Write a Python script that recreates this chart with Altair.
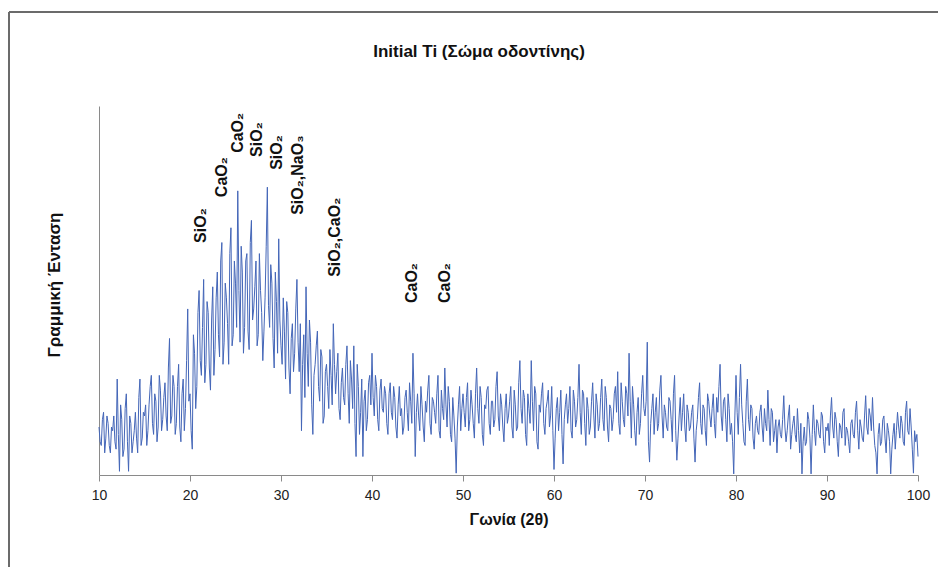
import altair as alt
import pandas as pd

# Intensity (arbitrary units, 0-100), on a 0.25 deg grid of 2-theta
intensity = [
    # 10.00 - 14.75
    13, 8, 17, 10, 14, 6, 12, 9, 26, 1, 15, 7, 22, 1, 14, 9, 17, 6, 26, 10,
    # 15.00 - 19.75
    16, 8, 19, 27, 11, 20, 13, 23, 15, 25, 12, 37, 16, 24, 14, 30, 9, 26, 18, 45,
    # 20.00 - 24.75
    22, 7, 33, 24, 50, 27, 53, 30, 44, 23, 51, 34, 55, 32, 63, 36, 48, 30, 67, 38,
    # 25.00 - 29.75
    52, 77, 36, 55, 40, 60, 34, 69, 45, 58, 38, 50, 31, 48, 78, 40, 52, 29, 47, 64,
    # 30.00 - 34.75
    35, 48, 26, 44, 22, 41, 33, 53, 28, 12, 38, 51, 24, 36, 11, 30, 39, 20, 32, 16,
    # 35.00 - 39.75
    30, 18, 27, 41, 22, 33, 15, 29, 19, 35, 14, 26, 35, 5, 24, 17, 5, 23, 15, 27,
    # 40.00 - 44.75
    33, 16, 24, 12, 26, 17, 22, 11, 25, 15, 21, 10, 24, 18, 13, 23, 12, 20, 33, 5,
    # 45.00 - 49.75
    22, 12, 19, 9, 17, 27, 11, 20, 14, 27, 10, 18, 29, 13, 20, 9, 16, 0.5, 19, 12,
    # 50.00 - 54.75
    22, 13, 25, 15, 19, 10, 29, 14, 21, 8, 18, 24, 11, 20, 15, 28, 12, 19, 9, 22,
    # 55.00 - 59.75
    16, 24, 10, 19, 13, 31, 14, 21, 8, 18, 31, 12, 22, 7, 17, 25, 11, 20, 13, 24,
    # 60.00 - 64.75
    1.5, 18, 12, 23, 3, 19, 14, 24, 10, 20, 15, 30, 11, 22, 8, 18, 13, 25, 10, 19,
    # 65.00 - 69.75
    14, 26, 12, 21, 9, 18, 15, 24, 28, 11, 20, 13, 22, 33, 10, 19, 8, 21, 14, 27,
    # 70.00 - 74.75
    16, 36, 3.5, 18, 11, 21, 14, 27, 10, 17, 12, 20, 9, 27, 4, 16, 12, 22, 9, 17,
    # 75.00 - 79.75
    13, 19, 3.5, 15, 25, 11, 18, 8, 20, 13, 22, 10, 17, 30, 12, 21, 9, 18, 14, 0.3,
    # 80.00 - 84.75
    27, 11, 30, 14, 8, 26, 12, 18, 7, 16, 11, 19, 9, 14, 23, 8, 17, 12, 6, 15,
    # 85.00 - 89.75
    10, 21.5, 9, 16, 7, 14, 11, 18, 6, 0.3, 13, 9, 15, 0.3, 19, 8, 14, 10, 16, 6,
    # 90.00 - 94.75
    12, 8, 21, 10, 15, 5, 13, 17, 8, 12, 6, 15, 10, 20, 7, 13, 9, 21.5, 11, 16,
    # 95.00 - 99.75
    21, 8, 0.3, 14, 9, 16, 6, 12, 0.3, 11, 7, 17, 10, 14, 8, 20, 11, 13, 0.5, 9,
    # 100.00
    5,
]

# Intermediate readings, at 10.125, 10.375, ... 99.875
intensity_mid = [
    9, 15, 6, 16, 8, 13, 16, 7, 11, 19, 5, 18, 9, 16, 6, 12, 10, 21, 8, 17,
    19, 12, 24, 14, 22, 9, 27, 12, 21, 16, 29, 14, 27, 11, 24, 13, 22, 12, 31, 20,
    12, 38, 18, 44, 31, 40, 25, 47, 29, 42, 27, 48, 38, 58, 30, 52, 41, 60, 35, 58,
    40, 50, 62, 33, 58, 39, 63, 42, 51, 35, 60, 44, 39, 62, 46, 57, 37, 55, 33, 42,
    30, 39, 47, 29, 37, 28, 45, 36, 41, 30, 21, 33, 42, 19, 27, 35, 24, 34, 14, 28,
    24, 34, 19, 30, 28, 18, 25, 21, 30, 22, 31, 18, 14, 30, 11, 26, 20, 12, 25, 19,
    21, 27, 15, 23, 18, 24, 14, 22, 17, 24, 13, 19, 16, 11, 21, 17, 25, 14, 22, 17,
    16, 24, 13, 20, 23, 14, 21, 17, 22, 12, 23, 15, 19, 24, 11, 21, 10, 13, 24, 18,
    17, 21, 12, 23, 14, 22, 18, 24, 11, 19, 23, 14, 20, 13, 24, 16, 22, 13, 18, 14,
    20, 13, 23, 12, 25, 18, 23, 11, 22, 14, 20, 24, 9, 19, 22, 14, 18, 23, 16, 12,
    10, 21, 17, 11, 15, 22, 18, 12, 23, 13, 21, 17, 23, 14, 21, 11, 20, 16, 22, 12,
    21, 15, 24, 13, 19, 12, 22, 17, 14, 25, 15, 24, 16, 20, 24, 12, 17, 11, 22, 18,
    20, 9, 14, 22, 17, 12, 23, 16, 19, 13, 21, 15, 22, 12, 10, 21, 17, 13, 19, 12,
    17, 10, 12, 21, 14, 19, 12, 22, 16, 18, 14, 21, 24, 16, 20, 15, 22, 11, 9, 16,
    17, 21, 19, 9, 20, 15, 19, 10, 14, 12, 17, 13, 18, 12, 15, 18, 9, 15, 13, 11,
    15, 13, 12, 19, 11, 16, 9, 12, 14, 9, 8, 17, 10, 11, 12, 15, 11, 17, 9, 13,
    14, 16, 13, 17, 9, 14, 10, 18, 13, 9, 14, 11, 17, 12, 15, 10, 16, 13, 18, 12,
    13, 6, 11, 8, 15, 10, 14, 9, 7, 14, 12, 13, 16, 9, 17, 12, 18, 7, 12, 11,
]

two_theta = [round(10 + 0.25 * i, 3) for i in range(len(intensity))]
two_theta_mid = [round(10.125 + 0.25 * i, 3) for i in range(len(intensity_mid))]

peak_labels = ["SiO₂", "CaO₂", "CaO₂", "SiO₂", "SiO₂", "SiO₂,NaO₃", "SiO₂,CaO₂", "CaO₂", "CaO₂"]
peak_x = [21.2, 23.5, 25.3, 27.4, 29.6, 31.9, 35.9, 44.4, 48.0]
peak_y = [62.9, 75.3, 87.3, 86.2, 82.7, 70.5, 53.7, 46.6, 46.6]

x_ticks = [10, 20, 30, 40, 50, 60, 70, 80, 90, 100]

title_text = "Initial Ti (Σώμα οδοντίνης)"
x_title = "Γωνία (2θ)"
y_title = "Γραμμική Ένταση"

FONT = "Liberation Sans, Arial, DejaVu Sans"

df = pd.DataFrame({
    "angle": two_theta + two_theta_mid,
    "intensity": intensity + intensity_mid,
}).sort_values("angle").reset_index(drop=True)
ann = pd.DataFrame({"label": peak_labels, "angle": peak_x, "intensity": peak_y})
one = pd.DataFrame({"k": [0]})

x_scale = alt.Scale(domain=[10, 100], nice=False, zero=False)
y_scale = alt.Scale(domain=[0, 100], nice=False)

line = alt.Chart(df).mark_line(color="#4466b8", strokeWidth=1).encode(
    x=alt.X("angle:Q", scale=x_scale, sort=None,
            axis=alt.Axis(values=x_ticks, title=x_title, grid=False,
                          labelFont=FONT, labelFontSize=14, labelColor="#222222",
                          labelPadding=7, tickSize=6, tickColor="#8a8a8a",
                          domainColor="#8a8a8a", titleFont=FONT, titleFontSize=16,
                          titleFontWeight="bold", titleColor="#111111", titlePadding=9,
                          labelFlush=False)),
    y=alt.Y("intensity:Q", scale=y_scale,
            axis=alt.Axis(title=None, labels=False, ticks=False, grid=False,
                          domainColor="#8a8a8a")),
    order="angle:Q",
)

labels = alt.Chart(ann).mark_text(
    angle=270, align="left", baseline="middle", font=FONT, fontSize=16,
    fontWeight="bold", color="#111111",
).encode(
    x=alt.X("angle:Q", scale=x_scale),
    y=alt.Y("intensity:Q", scale=y_scale),
    text="label:N",
)

title = alt.Chart(one).mark_text(
    font=FONT, fontSize=17, fontWeight="bold", color="#111111",
    align="center", baseline="middle",
).encode(x=alt.value(380), y=alt.value(-54), text=alt.value(title_text))

ytitle = alt.Chart(one).mark_text(
    font=FONT, fontSize=17, fontWeight="bold", color="#111111",
    align="center", baseline="middle", angle=270,
).encode(x=alt.value(-44), y=alt.value(179), text=alt.value(y_title))

frame_top = alt.Chart(one).mark_rule(color="#6b6b6b", strokeWidth=2).encode(
    x=alt.value(-90), x2=alt.value(839), y=alt.value(-94))
frame_left = alt.Chart(one).mark_rule(color="#6b6b6b", strokeWidth=2).encode(
    x=alt.value(-90), y=alt.value(-94), y2=alt.value(461))

chart = alt.layer(line, labels, title, ytitle, frame_top, frame_left).properties(
    width=819, height=369,
    autosize=alt.AutoSizeParams(type="none"),
    padding={"left": 91, "top": 98, "right": 20, "bottom": 92},
).configure_view(stroke=None)

chart.save("out.html", embed_options={"renderer": "svg", "actions": False})
